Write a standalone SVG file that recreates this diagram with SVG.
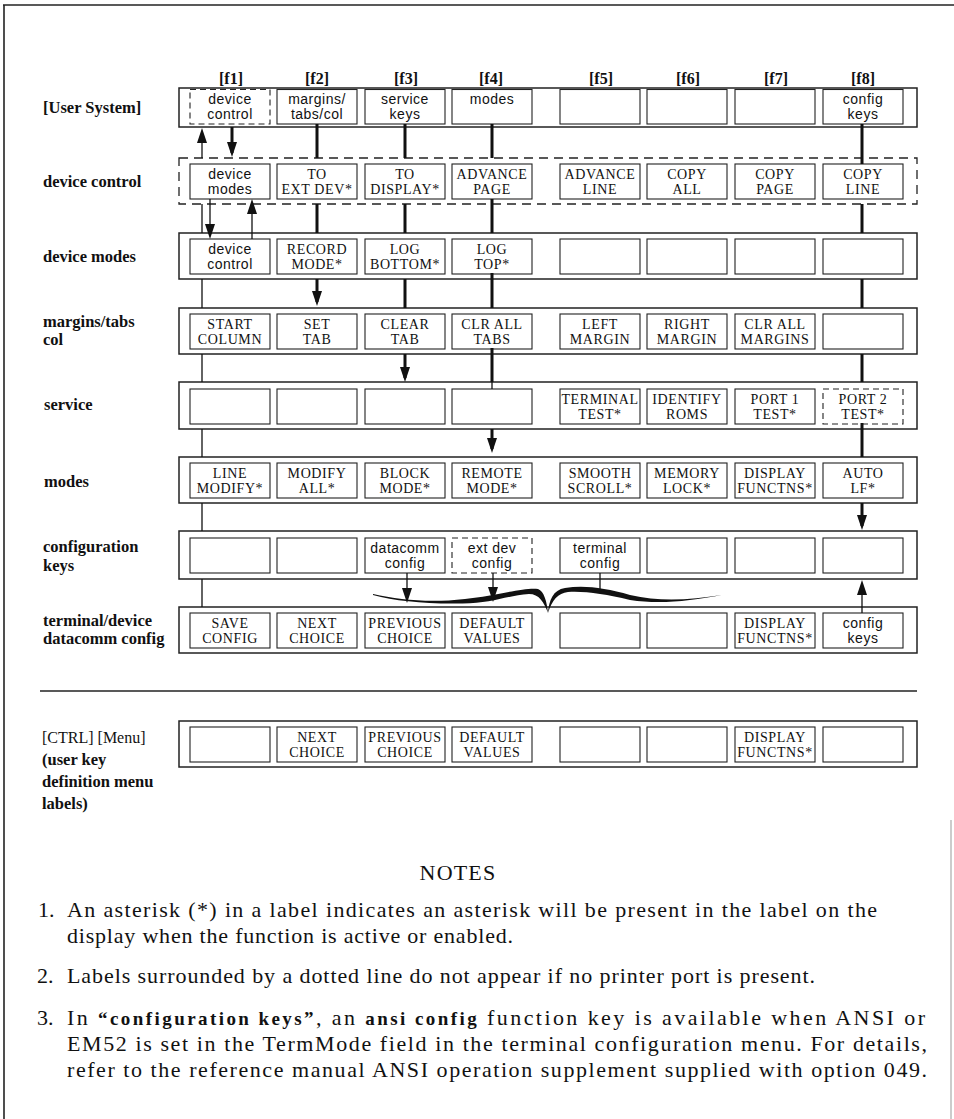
<svg xmlns="http://www.w3.org/2000/svg" width="954" height="1119" viewBox="0 0 954 1119">
<style>
.band{fill:#fff;stroke:#222;stroke-width:1.5}
.bandd{fill:#fff;stroke:#222;stroke-width:1.3;stroke-dasharray:9 6}
.key{fill:#fff;stroke:#222;stroke-width:1.1}
.keyd{fill:#fff;stroke:#222;stroke-width:1.1;stroke-dasharray:6 4}
.cap{font-family:"Liberation Serif",serif;font-size:14px;text-anchor:middle;letter-spacing:0.6px;fill:#111}
.low{font-family:"Liberation Sans",sans-serif;font-size:14px;text-anchor:middle;letter-spacing:0.5px;fill:#111}
.rl{font-family:"Liberation Serif",serif;font-weight:bold;font-size:16.5px;fill:#111}
.rln{font-family:"Liberation Serif",serif;font-size:16px;fill:#111}
.hd{font-family:"Liberation Serif",serif;font-weight:bold;font-size:16px;text-anchor:middle;fill:#111}
.thick{stroke:#111;stroke-width:3;fill:none}
.thin{stroke:#111;stroke-width:1.3;fill:none}
.note{font-family:"Liberation Serif",serif;font-size:22px;fill:#111}
.frame{stroke:#222;stroke-width:1.6;fill:none}
</style>
<defs>
<marker id="ah" markerUnits="userSpaceOnUse" markerWidth="15" markerHeight="10" viewBox="0 0 15 10" refX="11" refY="5" orient="auto"><path d="M0,0 L15,5 L0,10 z" fill="#111"/></marker>
</defs>
<rect width="954" height="1119" fill="#fff"/>
<g id="frame">
<line class="frame" x1="3" y1="5" x2="954" y2="5"/>
<line class="frame" x1="4" y1="5" x2="4" y2="1119"/>
<line x1="951" y1="820" x2="951" y2="1119" stroke="#999" stroke-width="1"/>
</g>
<g id="headers">
<text class="hd" x="231" y="84">[f1]</text>
<text class="hd" x="317" y="84">[f2]</text>
<text class="hd" x="406" y="84">[f3]</text>
<text class="hd" x="491" y="84">[f4]</text>
<text class="hd" x="601" y="84">[f5]</text>
<text class="hd" x="688" y="84">[f6]</text>
<text class="hd" x="776" y="84">[f7]</text>
<text class="hd" x="863" y="84">[f8]</text>
</g>
<g id="row-labels">
<text class="rl" x="43" y="113">[User System]</text>
<text class="rl" x="43" y="187">device control</text>
<text class="rl" x="43" y="262">device modes</text>
<text class="rl" x="43" y="327">margins/tabs<tspan x="43" dy="18">col</tspan></text>
<text class="rl" x="44" y="410">service</text>
<text class="rl" x="44" y="487">modes</text>
<text class="rl" x="43" y="552">configuration<tspan x="43" dy="19">keys</tspan></text>
<text class="rl" x="43" y="626">terminal/device<tspan x="43" dy="18">datacomm config</tspan></text>
<text class="rln" x="42" y="743">[CTRL]  [Menu]</text>
<text class="rl" x="42" y="765">(user key<tspan x="42" dy="22">definition menu</tspan><tspan x="42" dy="22">labels)</tspan></text>
</g>

<g id="row-user-system">
<rect class="band" x="179" y="88" width="738" height="39"/>
<g id="us-1"><rect class="keyd" x="190" y="89.5" width="80" height="34.5"/><text class="low" x="230" y="103.5">device<tspan x="230" dy="15.5">control</tspan></text></g>
<g id="us-2"><rect class="key" x="277" y="89.5" width="80" height="34.5"/><text class="low" x="317" y="103.5">margins/<tspan x="317" dy="15.5">tabs/col</tspan></text></g>
<g id="us-3"><rect class="key" x="365" y="89.5" width="80" height="34.5"/><text class="low" x="405" y="103.5">service<tspan x="405" dy="15.5">keys</tspan></text></g>
<g id="us-4"><rect class="key" x="452" y="89.5" width="80" height="34.5"/><text class="low" x="492" y="103.5">modes</text></g>
<g id="us-5"><rect class="key" x="560" y="89.5" width="80" height="34.5"/></g>
<g id="us-6"><rect class="key" x="647" y="89.5" width="80" height="34.5"/></g>
<g id="us-7"><rect class="key" x="735" y="89.5" width="80" height="34.5"/></g>
<g id="us-8"><rect class="key" x="823" y="89.5" width="80" height="34.5"/><text class="low" x="863" y="103.5">config<tspan x="863" dy="15.5">keys</tspan></text></g>
</g>

<g id="row-device-control">
<rect class="bandd" x="179" y="158" width="738" height="46"/>
<g id="dc-1"><rect class="key" x="190" y="164" width="80" height="35"/><text class="low" x="230" y="178.5">device<tspan x="230" dy="15.5">modes</tspan></text></g>
<g id="dc-2"><rect class="key" x="277" y="164" width="80" height="35"/><text class="cap" x="317" y="178.5">TO<tspan x="317" dy="15.5">EXT DEV*</tspan></text></g>
<g id="dc-3"><rect class="key" x="365" y="164" width="80" height="35"/><text class="cap" x="405" y="178.5">TO<tspan x="405" dy="15.5">DISPLAY*</tspan></text></g>
<g id="dc-4"><rect class="key" x="452" y="164" width="80" height="35"/><text class="cap" x="492" y="178.5">ADVANCE<tspan x="492" dy="15.5">PAGE</tspan></text></g>
<g id="dc-5"><rect class="key" x="560" y="164" width="80" height="35"/><text class="cap" x="600" y="178.5">ADVANCE<tspan x="600" dy="15.5">LINE</tspan></text></g>
<g id="dc-6"><rect class="key" x="647" y="164" width="80" height="35"/><text class="cap" x="687" y="178.5">COPY<tspan x="687" dy="15.5">ALL</tspan></text></g>
<g id="dc-7"><rect class="key" x="735" y="164" width="80" height="35"/><text class="cap" x="775" y="178.5">COPY<tspan x="775" dy="15.5">PAGE</tspan></text></g>
<g id="dc-8"><rect class="key" x="823" y="164" width="80" height="35"/><text class="cap" x="863" y="178.5">COPY<tspan x="863" dy="15.5">LINE</tspan></text></g>
</g>

<g id="row-device-modes">
<rect class="band" x="179" y="233" width="738" height="46"/>
<g id="dm-1"><rect class="key" x="190" y="239" width="80" height="35"/><text class="low" x="230" y="253.5">device<tspan x="230" dy="15.5">control</tspan></text></g>
<g id="dm-2"><rect class="key" x="277" y="239" width="80" height="35"/><text class="cap" x="317" y="253.5">RECORD<tspan x="317" dy="15.5">MODE*</tspan></text></g>
<g id="dm-3"><rect class="key" x="365" y="239" width="80" height="35"/><text class="cap" x="405" y="253.5">LOG<tspan x="405" dy="15.5">BOTTOM*</tspan></text></g>
<g id="dm-4"><rect class="key" x="452" y="239" width="80" height="35"/><text class="cap" x="492" y="253.5">LOG<tspan x="492" dy="15.5">TOP*</tspan></text></g>
<g id="dm-5"><rect class="key" x="560" y="239" width="80" height="35"/></g>
<g id="dm-6"><rect class="key" x="647" y="239" width="80" height="35"/></g>
<g id="dm-7"><rect class="key" x="735" y="239" width="80" height="35"/></g>
<g id="dm-8"><rect class="key" x="823" y="239" width="80" height="35"/></g>
</g>

<g id="row-margins">
<rect class="band" x="179" y="308" width="738" height="46"/>
<g id="mt-1"><rect class="key" x="190" y="314" width="80" height="35"/><text class="cap" x="230" y="328.5">START<tspan x="230" dy="15.5">COLUMN</tspan></text></g>
<g id="mt-2"><rect class="key" x="277" y="314" width="80" height="35"/><text class="cap" x="317" y="328.5">SET<tspan x="317" dy="15.5">TAB</tspan></text></g>
<g id="mt-3"><rect class="key" x="365" y="314" width="80" height="35"/><text class="cap" x="405" y="328.5">CLEAR<tspan x="405" dy="15.5">TAB</tspan></text></g>
<g id="mt-4"><rect class="key" x="452" y="314" width="80" height="35"/><text class="cap" x="492" y="328.5">CLR ALL<tspan x="492" dy="15.5">TABS</tspan></text></g>
<g id="mt-5"><rect class="key" x="560" y="314" width="80" height="35"/><text class="cap" x="600" y="328.5">LEFT<tspan x="600" dy="15.5">MARGIN</tspan></text></g>
<g id="mt-6"><rect class="key" x="647" y="314" width="80" height="35"/><text class="cap" x="687" y="328.5">RIGHT<tspan x="687" dy="15.5">MARGIN</tspan></text></g>
<g id="mt-7"><rect class="key" x="735" y="314" width="80" height="35"/><text class="cap" x="775" y="328.5">CLR ALL<tspan x="775" dy="15.5">MARGINS</tspan></text></g>
<g id="mt-8"><rect class="key" x="823" y="314" width="80" height="35"/></g>
</g>

<g id="row-service">
<rect class="band" x="179" y="382" width="738" height="47"/>
<g id="sv-1"><rect class="key" x="190" y="389" width="80" height="35"/></g>
<g id="sv-2"><rect class="key" x="277" y="389" width="80" height="35"/></g>
<g id="sv-3"><rect class="key" x="365" y="389" width="80" height="35"/></g>
<g id="sv-4"><rect class="key" x="452" y="389" width="80" height="35"/></g>
<g id="sv-5"><rect class="key" x="560" y="389" width="80" height="35"/><text class="cap" x="600" y="403.5">TERMINAL<tspan x="600" dy="15.5">TEST*</tspan></text></g>
<g id="sv-6"><rect class="key" x="647" y="389" width="80" height="35"/><text class="cap" x="687" y="403.5">IDENTIFY<tspan x="687" dy="15.5">ROMS</tspan></text></g>
<g id="sv-7"><rect class="key" x="735" y="389" width="80" height="35"/><text class="cap" x="775" y="403.5">PORT 1<tspan x="775" dy="15.5">TEST*</tspan></text></g>
<g id="sv-8"><rect class="keyd" x="823" y="389" width="80" height="35"/><text class="cap" x="863" y="403.5">PORT 2<tspan x="863" dy="15.5">TEST*</tspan></text></g>
</g>

<g id="row-modes">
<rect class="band" x="179" y="457" width="738" height="46"/>
<g id="mo-1"><rect class="key" x="190" y="463" width="80" height="35"/><text class="cap" x="230" y="477.5">LINE<tspan x="230" dy="15.5">MODIFY*</tspan></text></g>
<g id="mo-2"><rect class="key" x="277" y="463" width="80" height="35"/><text class="cap" x="317" y="477.5">MODIFY<tspan x="317" dy="15.5">ALL*</tspan></text></g>
<g id="mo-3"><rect class="key" x="365" y="463" width="80" height="35"/><text class="cap" x="405" y="477.5">BLOCK<tspan x="405" dy="15.5">MODE*</tspan></text></g>
<g id="mo-4"><rect class="key" x="452" y="463" width="80" height="35"/><text class="cap" x="492" y="477.5">REMOTE<tspan x="492" dy="15.5">MODE*</tspan></text></g>
<g id="mo-5"><rect class="key" x="560" y="463" width="80" height="35"/><text class="cap" x="600" y="477.5">SMOOTH<tspan x="600" dy="15.5">SCROLL*</tspan></text></g>
<g id="mo-6"><rect class="key" x="647" y="463" width="80" height="35"/><text class="cap" x="687" y="477.5">MEMORY<tspan x="687" dy="15.5">LOCK*</tspan></text></g>
<g id="mo-7"><rect class="key" x="735" y="463" width="80" height="35"/><text class="cap" x="775" y="477.5">DISPLAY<tspan x="775" dy="15.5">FUNCTNS*</tspan></text></g>
<g id="mo-8"><rect class="key" x="823" y="463" width="80" height="35"/><text class="cap" x="863" y="477.5">AUTO<tspan x="863" dy="15.5">LF*</tspan></text></g>
</g>

<g id="row-config-keys">
<rect class="band" x="179" y="531" width="738" height="48"/>
<g id="ck-1"><rect class="key" x="190" y="538" width="80" height="35"/></g>
<g id="ck-2"><rect class="key" x="277" y="538" width="80" height="35"/></g>
<g id="ck-3"><rect class="key" x="365" y="538" width="80" height="35"/><text class="low" x="405" y="552.5">datacomm<tspan x="405" dy="15.5">config</tspan></text></g>
<g id="ck-4"><rect class="keyd" x="452" y="538" width="80" height="35"/><text class="low" x="492" y="552.5">ext dev<tspan x="492" dy="15.5">config</tspan></text></g>
<g id="ck-5"><rect class="key" x="560" y="538" width="80" height="35"/><text class="low" x="600" y="552.5">terminal<tspan x="600" dy="15.5">config</tspan></text></g>
<g id="ck-6"><rect class="key" x="647" y="538" width="80" height="35"/></g>
<g id="ck-7"><rect class="key" x="735" y="538" width="80" height="35"/></g>
<g id="ck-8"><rect class="key" x="823" y="538" width="80" height="35"/></g>
</g>

<g id="row-terminal-device">
<rect class="band" x="179" y="607" width="738" height="46"/>
<g id="td-1"><rect class="key" x="190" y="613" width="80" height="35"/><text class="cap" x="230" y="627.5">SAVE<tspan x="230" dy="15.5">CONFIG</tspan></text></g>
<g id="td-2"><rect class="key" x="277" y="613" width="80" height="35"/><text class="cap" x="317" y="627.5">NEXT<tspan x="317" dy="15.5">CHOICE</tspan></text></g>
<g id="td-3"><rect class="key" x="365" y="613" width="80" height="35"/><text class="cap" x="405" y="627.5">PREVIOUS<tspan x="405" dy="15.5">CHOICE</tspan></text></g>
<g id="td-4"><rect class="key" x="452" y="613" width="80" height="35"/><text class="cap" x="492" y="627.5">DEFAULT<tspan x="492" dy="15.5">VALUES</tspan></text></g>
<g id="td-5"><rect class="key" x="560" y="613" width="80" height="35"/></g>
<g id="td-6"><rect class="key" x="647" y="613" width="80" height="35"/></g>
<g id="td-7"><rect class="key" x="735" y="613" width="80" height="35"/><text class="cap" x="775" y="627.5">DISPLAY<tspan x="775" dy="15.5">FUNCTNS*</tspan></text></g>
<g id="td-8"><rect class="key" x="823" y="613" width="80" height="35"/><text class="low" x="863" y="627.5">config<tspan x="863" dy="15.5">keys</tspan></text></g>
</g>

<line id="separator" x1="40" y1="691" x2="917" y2="691" stroke="#222" stroke-width="1.6"/>

<g id="row-ctrl-menu">
<rect class="band" x="179" y="721" width="738" height="46"/>
<g id="cm-1"><rect class="key" x="190" y="727" width="80" height="35"/></g>
<g id="cm-2"><rect class="key" x="277" y="727" width="80" height="35"/><text class="cap" x="317" y="741.5">NEXT<tspan x="317" dy="15.5">CHOICE</tspan></text></g>
<g id="cm-3"><rect class="key" x="365" y="727" width="80" height="35"/><text class="cap" x="405" y="741.5">PREVIOUS<tspan x="405" dy="15.5">CHOICE</tspan></text></g>
<g id="cm-4"><rect class="key" x="452" y="727" width="80" height="35"/><text class="cap" x="492" y="741.5">DEFAULT<tspan x="492" dy="15.5">VALUES</tspan></text></g>
<g id="cm-5"><rect class="key" x="560" y="727" width="80" height="35"/></g>
<g id="cm-6"><rect class="key" x="647" y="727" width="80" height="35"/></g>
<g id="cm-7"><rect class="key" x="735" y="727" width="80" height="35"/><text class="cap" x="775" y="741.5">DISPLAY<tspan x="775" dy="15.5">FUNCTNS*</tspan></text></g>
<g id="cm-8"><rect class="key" x="823" y="727" width="80" height="35"/></g>
</g>

<g id="connectors">
<path class="thin" d="M202,158 V132" marker-end="url(#ah)"/>
<path class="thick" d="M232,127 V153" marker-end="url(#ah)"/>
<path class="thick" d="M317,124 V158 M405,124 V158 M492,124 V158 M862,124 V164"/>
<path class="thin" d="M202,204 V233 M202,279 V308 M202,354 V382 M202,429 V457 M202,503 V531 M202,579 V607"/>
<path class="thin" d="M210,199 V235" marker-end="url(#ah)"/>
<path class="thin" d="M252,239 V203" marker-end="url(#ah)"/>
<path class="thick" d="M317,204 V233 M405,204 V233 M492,199 V233 M862,204 V233"/>
<path class="thick" d="M317,279 V302" marker-end="url(#ah)"/>
<path class="thick" d="M405,279 V308 M492,273 V308 M862,279 V308"/>
<path class="thick" d="M405,354 V378" marker-end="url(#ah)"/>
<path class="thick" d="M492,348 V382 M862,354 V382"/>
<path class="thin" d="M492,382 V389"/>
<path class="thick" d="M492,429 V449" marker-end="url(#ah)"/>
<path class="thick" d="M862,423 V457"/>
<path class="thick" d="M862,503 V526" marker-end="url(#ah)"/>
<path class="thin" d="M862,613 V584" marker-end="url(#ah)"/>
<path class="thin" d="M407,573 V599" marker-end="url(#ah)"/>
<path class="thin" d="M493,573 V598" marker-end="url(#ah)"/>
<path class="thin" d="M600,573 V590"/>
<path id="brace-left" fill="#111" d="M373,594 C400,600 430,603 465,599 C495,596 525,587 538,589 C544,591 547,602 548,613 C544,602 539,594 529,594 C505,596 490,604 460,603.5 C425,604 395,601 373,595 Z"/>
<path id="brace-right" fill="#111" d="M548,613 C549,600 553,590 565,588 C585,585 605,588 630,595 C660,602 690,600 722,595 C690,601 660,604.5 630,600 C605,594 585,591 568,592 C558,593 552,600 548,613 Z"/>
</g>

<g id="notes">
<text class="note" x="458" y="880" text-anchor="middle" letter-spacing="1.2">NOTES</text>
<text class="note" x="38" y="917">1.</text>
<text class="note" x="67" y="917" textLength="810" lengthAdjust="spacing">An asterisk (*) in a label indicates an asterisk will be present in the label on the</text>
<text class="note" x="67" y="943" textLength="446" lengthAdjust="spacing">display when the function is active or enabled.</text>
<text class="note" x="37" y="983">2.</text>
<text class="note" x="67" y="983" textLength="748" lengthAdjust="spacing">Labels surrounded by a dotted line do not appear if no printer port is present.</text>
<text class="note" x="37" y="1025">3.</text>
<text class="note" x="67" y="1025" textLength="858" lengthAdjust="spacing">In <tspan font-weight="bold" font-size="19">“configuration keys”</tspan>, an <tspan font-weight="bold" font-size="19">ansi config</tspan> function key is available when ANSI or</text>
<text class="note" x="67" y="1051" textLength="860" lengthAdjust="spacing">EM52 is set in the TermMode field in the terminal configuration menu. For details,</text>
<text class="note" x="67" y="1077" textLength="860" lengthAdjust="spacing">refer to the reference manual ANSI operation supplement supplied with option 049.</text>
</g>
</svg>
